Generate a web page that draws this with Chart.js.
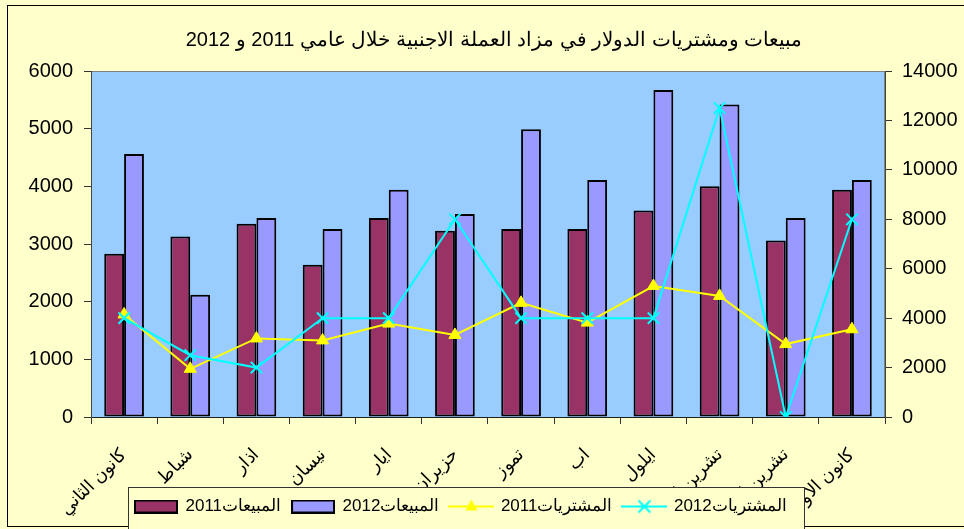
<!DOCTYPE html>
<html>
<head>
<meta charset="utf-8">
<script src="https://cdn.jsdelivr.net/npm/chart.js@4.4.1/dist/chart.umd.min.js"></script>
<style>
  body { margin: 0; background: #FFFFCC; }
  canvas { display: block; }
</style>
</head>
<body>
<canvas id="dollarChart" width="964" height="529"></canvas>
<script>
const months = ["كانون الثاني", "شباط", "اذار", "نيسان", "ايار", "حزيران", "تموز", "اب", "ايلول", "تشرين الاول", "تشرين الثاني", "كانون الاول"];
const sales2011 = [2830, 3130, 3350, 2640, 3450, 3230, 3260, 3260, 3580, 4000, 3060, 3940];
const sales2012 = [4560, 2120, 3450, 3260, 3940, 3520, 4990, 4110, 5670, 5420, 3450, 4110];
const purchases2011 = [4150, 1950, 3180, 3100, 3780, 3320, 4620, 3820, 5300, 4900, 2950, 3550];
const purchases2012 = [4000, 2500, 2000, 4000, 4000, 8000, 4000, 4000, 4000, 12500, 0, 8000];
const seriesNames = ["المبيعات2011", "المبيعات2012", "المشتريات2011", "المشتريات2012"];

const font = "'Liberation Sans', Arial, sans-serif";

// little pictures for the legend (box or line with marker)
function barIcon(color) {
    const c = document.createElement("canvas");
    c.width = 44; c.height = 14;
    const g = c.getContext("2d");
    g.fillStyle = color;
    g.fillRect(1, 1, 42, 12);
    g.strokeStyle = "#000";
    g.lineWidth = 2;
    g.strokeRect(1, 1, 42, 12);
    return c;
}
function lineIcon(color, marker) {
    const c = document.createElement("canvas");
    c.width = 46; c.height = 18;
    const g = c.getContext("2d");
    g.strokeStyle = color;
    g.fillStyle = color;
    g.lineWidth = 2;
    g.beginPath(); g.moveTo(0, 9); g.lineTo(46, 9); g.stroke();
    if (marker === "triangle") {
        g.beginPath(); g.moveTo(23, 2); g.lineTo(29, 13); g.lineTo(17, 13); g.closePath(); g.fill();
    } else {
        g.beginPath();
        g.moveTo(17, 3); g.lineTo(29, 15);
        g.moveTo(29, 3); g.lineTo(17, 15);
        g.stroke();
    }
    return c;
}
const legendIcons = [barIcon("#993366"), barIcon("#9999FF"), lineIcon("#FFFF00", "triangle"), lineIcon("#00FFFF", "x")];

const frame = {
    id: "frame",
    beforeDraw(chart) {
        const ctx = chart.ctx;
        const a = chart.chartArea;
        ctx.save();
        ctx.fillStyle = "#FFFFCC";
        ctx.fillRect(0, 0, chart.width, chart.height);
        ctx.strokeStyle = "#000";
        ctx.lineWidth = 1;
        ctx.strokeRect(7.5, 5.5, chart.width + 10, 521);
        ctx.fillStyle = "#99CCFF";
        ctx.fillRect(a.left, a.top, a.right - a.left, a.bottom - a.top);
        ctx.strokeStyle = "#808080";
        ctx.strokeRect(a.left + 0.5, a.top + 0.5, a.right - a.left - 1, a.bottom - a.top);
        ctx.restore();
    },
    afterLayout(chart) {
        // month labels may run down behind the legend box
        if (chart.scales.x) chart.scales.x.bottom = chart.height - 3;
        const lg = chart.legend;
        if (!lg) return;
        lg.left = 124; lg.right = 860; lg.top = 487; lg.bottom = 529;
        if (!lg._boxed) {
            const origDraw = lg.draw;
            lg.draw = function () {
                const ctx = chart.ctx;
                ctx.save();
                ctx.fillStyle = "#FFFFCC";
                ctx.fillRect(128, 487, 677, 40);
                ctx.strokeStyle = "#333";
                ctx.lineWidth = 1;
                ctx.strokeRect(128.5, 487.5, 676, 42);
                ctx.restore();
                origDraw.apply(this, arguments);
            };
            lg._boxed = true;
        }
    }
};

const ctx = document.getElementById("dollarChart").getContext("2d");
new Chart(ctx, {
    type: "bar",
    data: {
        labels: months,
        datasets: [{
            label: seriesNames[0],
            data: sales2011,
            backgroundColor: "#993366",
            borderColor: "#000",
            borderWidth: 2,
            borderSkipped: false,
            yAxisID: "y",
            order: 2,
            categoryPercentage: 0.6,
            barPercentage: 1
        }, {
            label: seriesNames[1],
            data: sales2012,
            backgroundColor: "#9999FF",
            borderColor: "#000",
            borderWidth: 2,
            borderSkipped: false,
            yAxisID: "y",
            order: 2,
            categoryPercentage: 0.6,
            barPercentage: 1
        }, {
            type: "line",
            label: seriesNames[2],
            data: purchases2011,
            yAxisID: "y1",
            borderColor: "#FFFF00",
            borderWidth: 2,
            pointStyle: "triangle",
            pointRadius: 7,
            pointBackgroundColor: "#FFFF00",
            pointBorderColor: "#FFFF00",
            pointBorderWidth: 1,
            fill: false,
            tension: 0,
            order: 1
        }, {
            type: "line",
            label: seriesNames[3],
            data: purchases2012,
            yAxisID: "y1",
            borderColor: "#00FFFF",
            borderWidth: 2,
            pointStyle: "crossRot",
            pointRadius: 8,
            pointBorderColor: "#00FFFF",
            pointBorderWidth: 2,
            fill: false,
            tension: 0,
            order: 0
        }]
    },
    options: {
        responsive: false,
        animation: false,
        devicePixelRatio: 1,
        layout: { padding: { left: 24, right: 0, top: 0, bottom: 0 } },
        plugins: {
            tooltip: { enabled: false },
            title: {
                display: true,
                text: "مبيعات ومشتريات الدولار في مزاد العملة الاجنبية خلال عامي 2011 و 2012",
                color: "#000",
                font: { family: font, size: 20, weight: "normal", lineHeight: 1.2 },
                padding: { top: 28, bottom: 19 }
            },
            legend: {
                position: "bottom",
                align: "start",
                labels: {
                    usePointStyle: true,
                    pointStyleWidth: 42,
                    boxHeight: 17,
                    padding: 11,
                    color: "#000",
                    font: { family: font, size: 17 },
                    generateLabels: chart => chart.data.datasets.map((ds, i) => ({
                        text: ds.label,
                        pointStyle: legendIcons[i],
                        fillStyle: "transparent",
                        strokeStyle: "transparent",
                        lineWidth: 0,
                        hidden: false,
                        datasetIndex: i,
                        fontColor: "#000"
                    }))
                }
            }
        },
        scales: {
            x: {
                offset: true,
                grid: { display: true, drawOnChartArea: false, offset: true, tickLength: 7, color: "#333" },
                border: { color: "#222", width: 1 },
                ticks: {
                    z: -1,
                    autoSkip: false,
                    minRotation: 45,
                    maxRotation: 45,
                    padding: 20,
                    color: "#000",
                    font: { family: font, size: 18 }
                },
                afterFit: s => { s.height = 112 - (s.chart.legend ? s.chart.legend.height : 0); }
            },
            y: {
                position: "left",
                min: 0,
                max: 6000,
                ticks: { stepSize: 1000, padding: 11, color: "#000", font: { family: font, size: 20 }, callback: v => String(v) },
                grid: { drawOnChartArea: false, tickLength: 7, color: "#333" },
                border: { color: "#444", width: 1 },
                afterFit: s => { s.width = 67; }
            },
            y1: {
                position: "right",
                min: 0,
                max: 14000,
                ticks: { stepSize: 2000, padding: 10, color: "#000", font: { family: font, size: 20 }, callback: v => String(v) },
                grid: { drawOnChartArea: false, tickLength: 7, color: "#333" },
                border: { color: "#444", width: 1 },
                afterFit: s => { s.width = 79; }
            }
        }
    },
    plugins: [frame]
});
</script>
</body>
</html>
